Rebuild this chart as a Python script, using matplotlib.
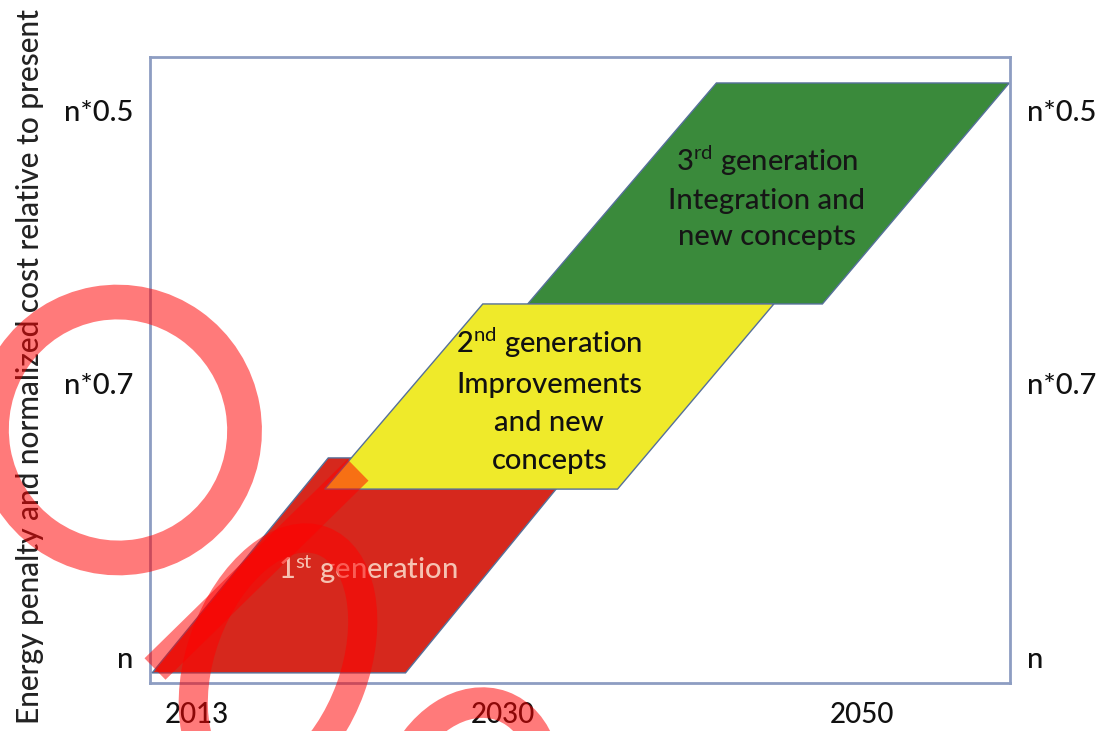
import matplotlib
matplotlib.use("Agg")
import matplotlib.pyplot as plt
from matplotlib.patches import Polygon, Ellipse
from matplotlib.lines import Line2D

plt.rcParams['font.family'] = ['Lato', 'DejaVu Sans']
plt.rcParams['mathtext.fontset'] = 'custom'
plt.rcParams['mathtext.rm'] = 'Lato'
plt.rcParams['mathtext.it'] = 'Lato:italic'
plt.rcParams['mathtext.bf'] = 'Lato:bold'

# ---------------- data ----------------
year_ticks = [2013, 2030, 2050]
level_pos = [0, 1, 2]
level_labels = ['n', 'n*0.7', 'n*0.5']

gen_labels = ['1$^{\\mathrm{st}}$ generation',
              '2$^{\\mathrm{nd}}$ generation\nImprovements\nand new\nconcepts',
              '3$^{\\mathrm{rd}}$ generation\nIntegration and\nnew concepts']
gen_bottom = [-0.058, 0.614, 1.291]
gen_top = [0.728, 1.291, 2.099]
gen_bottom_x0 = [2010.5, 2020.1, 2031.4]
gen_bottom_x1 = [2024.6, 2036.4, 2047.8]
gen_top_x0 = [2020.3, 2028.9, 2041.9]
gen_top_x1 = [2034.4, 2045.1, 2058.2]

gen_colors = ['#d6281d', '#efea2a', '#3a8a3b']
gen_text_colors = ['#f6c2b2', '#111111', '#161616']
gen_zorder = [3, 4, 2]
gen_text_xy = [(2022.5, 0.32), (2032.6, 0.94), (2044.7, 1.682)]
gen_linespacing = [1.3, 1.56, 1.48]

# ---------------- figure ----------------
W, H = 1104, 731
fig = plt.figure(figsize=(W / 100, H / 100), dpi=100)
fig.patch.set_facecolor('white')

ax = fig.add_axes([150 / W, (H - 683) / H, 860 / W, 626 / H])
ax.set_xlim(2010.38, 2058.24)
ax.set_ylim(-0.095, 2.194)

for i in range(3):
    verts = [(gen_bottom_x0[i], gen_bottom[i]), (gen_bottom_x1[i], gen_bottom[i]),
             (gen_top_x1[i], gen_top[i]), (gen_top_x0[i], gen_top[i])]
    ax.add_patch(Polygon(verts, closed=True, facecolor=gen_colors[i],
                         edgecolor='#55709a', linewidth=1.0, zorder=gen_zorder[i]))
    tx, ty = gen_text_xy[i]
    ax.text(tx, ty, gen_labels[i], ha='center', va='center', fontsize=21,
            fontweight='medium', color=gen_text_colors[i],
            linespacing=gen_linespacing[i], zorder=10)

for s in ax.spines.values():
    s.set_color('#8d9dc2')
    s.set_linewidth(2.0)

ax.set_xticks(year_ticks)
ax.set_xticklabels([str(y) for y in year_ticks], fontsize=20, fontweight='medium',
                   color='#111111')
ax.set_yticks(level_pos)
ax.set_yticklabels(level_labels, fontsize=21, fontweight='medium', color='#111111')
ax.tick_params(axis='both', length=0)
ax.tick_params(axis='x', pad=14)
ax.tick_params(axis='y', pad=12)

ax2 = ax.twinx()
ax2.set_ylim(ax.get_ylim())
ax2.set_yticks(level_pos)
ax2.set_yticklabels(level_labels, fontsize=21, fontweight='medium', color='#111111')
ax2.tick_params(axis='y', length=0, pad=12)
for s in ax2.spines.values():
    s.set_visible(False)

fig.text(30 / W, (H - 366) / H, 'Energy penalty and normalized cost relative to present',
         rotation=90, ha='center', va='center', fontsize=21.5, fontweight='medium',
         color='#222222')

# ---------------- red overlay marks (in pixel space) ----------------
ov = fig.add_axes([0, 0, 1, 1], zorder=20)
ov.set_xlim(0, W)
ov.set_ylim(H, 0)
ov.axis('off')
ov.patch.set_alpha(0)
red_ov = dict(edgecolor=(1, 0, 0, 0.52), facecolor='none')
ov.add_patch(Ellipse((118, 430), 253, 256, angle=-10, linewidth=25, **red_ov))
ov.add_patch(Ellipse((278, 662), 258, 154, angle=-70, linewidth=21, **red_ov))
ov.add_patch(Ellipse((468, 800), 150, 200, angle=20, linewidth=22, **red_ov))
ov.add_line(Line2D([155, 358], [669, 470], color=(1, 0, 0, 0.52), linewidth=21.6,
                   solid_capstyle='butt'))

fig.savefig('out.png', dpi=100, facecolor='white')
